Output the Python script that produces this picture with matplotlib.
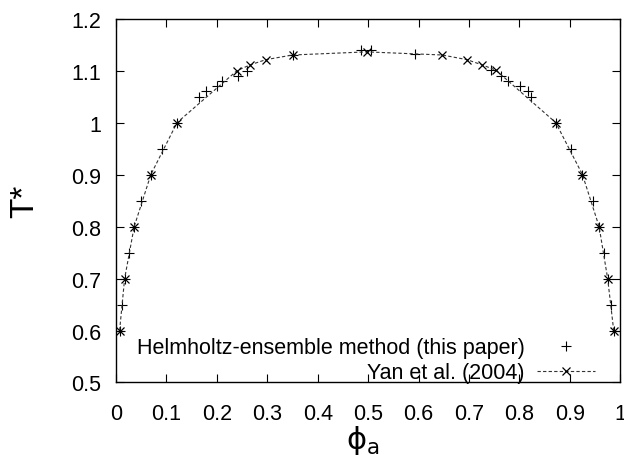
import matplotlib
matplotlib.use("Agg")
import matplotlib.pyplot as plt

# Helmholtz-ensemble method (this paper), + markers
phi_helm = [0.007, 0.012, 0.017, 0.026, 0.036, 0.050, 0.069, 0.091, 0.121,
            0.165, 0.179, 0.200, 0.210, 0.241, 0.260, 0.350, 0.486, 0.506,
            0.592, 0.743, 0.763, 0.777, 0.802, 0.818, 0.823, 0.872, 0.903,
            0.925, 0.945, 0.958, 0.968, 0.975, 0.982, 0.987]
T_helm = [0.60, 0.65, 0.70, 0.75, 0.80, 0.85, 0.90, 0.95, 1.00,
          1.050, 1.061, 1.070, 1.080, 1.090, 1.100, 1.130, 1.140, 1.139,
          1.132, 1.101, 1.090, 1.080, 1.070, 1.061, 1.050, 1.00, 0.95,
          0.90, 0.85, 0.80, 0.75, 0.70, 0.65, 0.60]

# Yan et al. (2004), x markers with dashed line
phi_yan = [0.007, 0.017, 0.036, 0.069, 0.121, 0.240, 0.266, 0.297, 0.350,
           0.497, 0.647, 0.696, 0.726, 0.753, 0.872, 0.925, 0.958, 0.975, 0.987]
T_yan = [0.60, 0.70, 0.80, 0.90, 1.00, 1.100, 1.111, 1.121, 1.130,
         1.136, 1.130, 1.121, 1.111, 1.101, 1.00, 0.90, 0.80, 0.70, 0.60]

xticks = [0, 0.1, 0.2, 0.3, 0.4, 0.5, 0.6, 0.7, 0.8, 0.9, 1]
xlabels = ["0", "0.1", "0.2", "0.3", "0.4", "0.5", "0.6", "0.7", "0.8", "0.9", "1"]
yticks = [0.5, 0.6, 0.7, 0.8, 0.9, 1.0, 1.1, 1.2]
ylabels = ["0.5", "0.6", "0.7", "0.8", "0.9", "1", "1.1", "1.2"]

plt.rcParams['font.family'] = ['Liberation Sans', 'DejaVu Sans']
plt.rcParams['mathtext.fontset'] = 'dejavusans'

fig = plt.figure(figsize=(6.24, 4.56), dpi=100)
ax = fig.add_axes([0.186, 0.159, 0.808, 0.798])

ax.plot(phi_helm, T_helm, linestyle='none', marker='+', color='black',
        markersize=7, markeredgewidth=0.8,
        label='Helmholtz-ensemble method (this paper)')
ax.plot(phi_yan, T_yan, linestyle=(0, (3, 2)), linewidth=0.8, color='#333333',
        marker='x', markersize=6, markeredgewidth=0.9, markeredgecolor='black',
        label='Yan et al. (2004)')

ax.set_xlim(0, 1)
ax.set_ylim(0.5, 1.2)
ax.set_xticks(xticks)
ax.set_xticklabels(xlabels)
ax.set_yticks(yticks)
ax.set_yticklabels(ylabels)
ax.tick_params(direction='in', length=6, width=0.8, top=True, right=True,
               labelsize=15.5)
ax.tick_params(axis='x', pad=15)
ax.tick_params(axis='y', pad=11)
for s in ax.spines.values():
    s.set_linewidth(1.0)

ax.set_xlabel(r'$\mathrm{\phi}_{\mathrm{a}}$', fontsize=22)
ax.xaxis.set_label_coords(0.49, -0.11)
ax.set_ylabel('T*', fontsize=24)
ax.yaxis.set_label_coords(-0.15, 0.5)

ax.legend(loc='lower right', bbox_to_anchor=(0.985, -0.05), frameon=False,
          markerfirst=False, fontsize=15.5, handlelength=2.7, handletextpad=0.6,
          labelspacing=0.2, borderpad=0.3)

fig.savefig('out.png', dpi=100)
